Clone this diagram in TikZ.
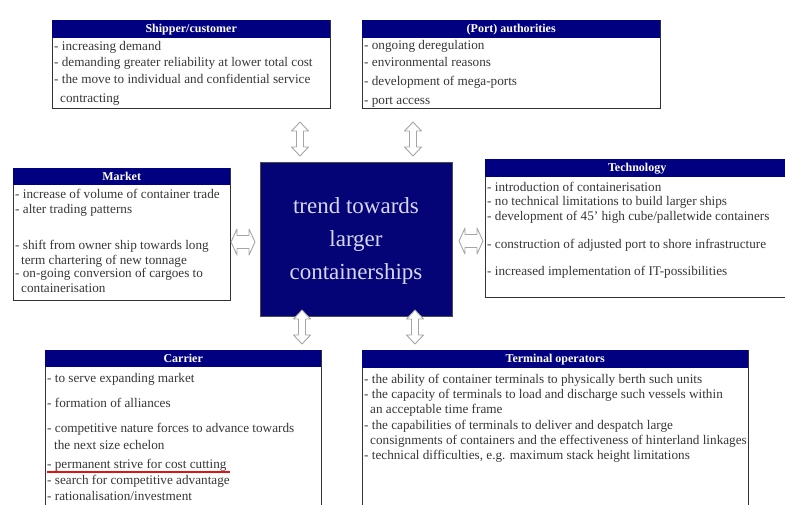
\documentclass[tikz,border=0pt]{standalone}
\usepackage{fontspec}
\setmainfont{Liberation Serif}
\definecolor{navy}{RGB}{0,0,128}
\definecolor{corefill}{RGB}{4,4,118}
\definecolor{coretext}{RGB}{215,215,242}
\definecolor{itemtext}{RGB}{55,55,55}
\definecolor{arrowline}{RGB}{165,165,165}
\definecolor{highlight}{RGB}{225,20,20}
\tikzset{
  frame/.style={draw=black!80, line width=1pt, fill=white, inner sep=0pt, anchor=north west},
  hdr/.style={fill=navy, text=white, font=\bfseries\fontsize{12}{12}\selectfont,
              inner sep=0pt, anchor=north west, minimum height=18pt},
  item/.style={anchor=base west, inner sep=0pt, text=itemtext,
               font=\fontsize{13.2}{14}\selectfont},
  blockarrow/.style={draw=arrowline, fill=white, line width=0.9pt, line join=round},
  vdarrow/.pic={
    \draw[blockarrow] (0,-17) -- (8.5,-8) -- (3.5,-8) -- (3.5,8) -- (8.5,8) -- (0,17)
      -- (-8.5,8) -- (-3.5,8) -- (-3.5,-8) -- (-8.5,-8) -- cycle;},
  hdarrow/.pic={
    \draw[blockarrow] (-12,0) -- (-6,-13) -- (-6,-6.5) -- (6,-6.5) -- (6,-13) -- (12,0)
      -- (6,13) -- (6,6.5) -- (-6,6.5) -- (-6,13) -- cycle;}
}
\begin{document}
\begin{tikzpicture}[x=1pt,y=-1pt]
\useasboundingbox (0,0) rectangle (785,504);
\fill[white] (0,0) rectangle (785,504);
\clip (0,0) rectangle (785,504);

% ---- Shipper/customer ----
\node[frame, minimum width=278pt, minimum height=88pt] (ship) at (52,20) {};
\node[hdr, minimum width=278pt] (shipH) at (ship.north west) {Shipper/customer};
\node[item] (ship1) at (54,50)  {- increasing demand};
\node[item] (ship2) at (54,66)  {- demanding greater reliability at lower total cost};
\node[item] (ship3) at (54,83)  {- the move to individual and confidential service};
\node[item] (ship4) at (60,102) {contracting};

% ---- (Port) authorities ----
\node[frame, minimum width=298pt, minimum height=88pt] (port) at (362,20) {};
\node[hdr, minimum width=298pt] (portH) at (port.north west) {(Port) authorities};
\node[item] (port1) at (364,49)  {- ongoing deregulation};
\node[item] (port2) at (364,66)  {- environmental reasons};
\node[item] (port3) at (364,85)  {- development of mega-ports};
\node[item] (port4) at (364,104) {- port access};

% ---- Market ----
\node[frame, minimum width=217pt, minimum height=132pt] (mkt) at (13,168) {};
\node[hdr, minimum width=217pt, minimum height=17pt] (mktH) at (mkt.north west) {Market};
\node[item] (mkt1) at (15,198) {- increase of volume of container trade};
\node[item] (mkt2) at (15,213) {- alter trading patterns};
\node[item] (mkt3) at (15,249) {- shift from owner ship towards long};
\node[item] (mkt4) at (21,264) {term chartering of new tonnage};
\node[item] (mkt5) at (15,277) {- on-going conversion of cargoes to};
\node[item] (mkt6) at (21,292) {containerisation};

% ---- Technology ----
\node[frame, minimum width=304pt, minimum height=138pt] (tech) at (485,159) {};
\node[hdr, minimum width=304pt] (techH) at (tech.north west) {Technology};
\node[item] (tech1) at (487,191) {- introduction of containerisation};
\node[item] (tech2) at (487,205) {- no technical limitations to build larger ships};
\node[item] (tech3) at (487,220) {- development of 45' high cube/palletwide containers};
\node[item] (tech4) at (487,248) {- construction of adjusted port to shore infrastructure};
\node[item] (tech5) at (487,275) {- increased implementation of IT-possibilities};

% ---- central theme ----
\node[fill=corefill, draw=black!70, line width=0.6pt, anchor=north west, inner sep=0pt,
      minimum width=192pt, minimum height=154pt] (core) at (260,162) {};
\node[text=coretext, align=center, font=\fontsize{23}{33}\selectfont, inner sep=0pt]
      (coreT) at (356,241) {trend towards\\larger\\containerships};

% ---- Carrier ----
\node[frame, minimum width=276pt, minimum height=180pt] (car) at (45,350) {};
\node[hdr, minimum width=276pt, minimum height=17pt] (carH) at (car.north west) {Carrier};
\node[item] (car1) at (47,382) {- to serve expanding market};
\node[item] (car2) at (47,407) {- formation of alliances};
\node[item] (car3) at (47,432) {- competitive nature forces to advance towards};
\node[item] (car4) at (54,449) {the next size echelon};
\node[item] (car5) at (47,468) {- permanent strive for cost cutting};
\node[item] (car6) at (47,484) {- search for competitive advantage};
\node[item] (car7) at (47,500) {- rationalisation/investment};
\draw[highlight, line width=2.2pt] ([yshift=-4pt]car5.base west) -- ([yshift=-4pt,xshift=3pt]car5.base east);

% ---- Terminal operators ----
\node[frame, minimum width=386pt, minimum height=180pt] (term) at (362,350) {};
\node[hdr, minimum width=386pt] (termH) at (term.north west) {Terminal operators};
\node[item] (term1) at (364,383) {- the ability of container terminals to physically berth such units};
\node[item] (term2) at (364,398) {- the capacity of terminals to load and discharge such vessels within};
\node[item] (term3) at (370,413) {an acceptable time frame};
\node[item] (term4) at (364,429) {- the capabilities of terminals to deliver and despatch large};
\node[item] (term5) at (370,444) {consignments of containers and the effectiveness of hinterland linkages};
\node[item] (term6) at (364,459) {- technical difficulties, e.g. maximum stack height limitations};

% ---- two-way links between the factors and the central theme ----
\pic (upL)  at (300,139) {vdarrow};
\pic (upR)  at (413,139) {vdarrow};
\pic (dnL)  at (302,327) {vdarrow};
\pic (dnR)  at (415,327) {vdarrow};
\pic (lfA)  at (243,242) {hdarrow};
\pic (rtA)  at (471,241) {hdarrow};
\end{tikzpicture}
\end{document}
